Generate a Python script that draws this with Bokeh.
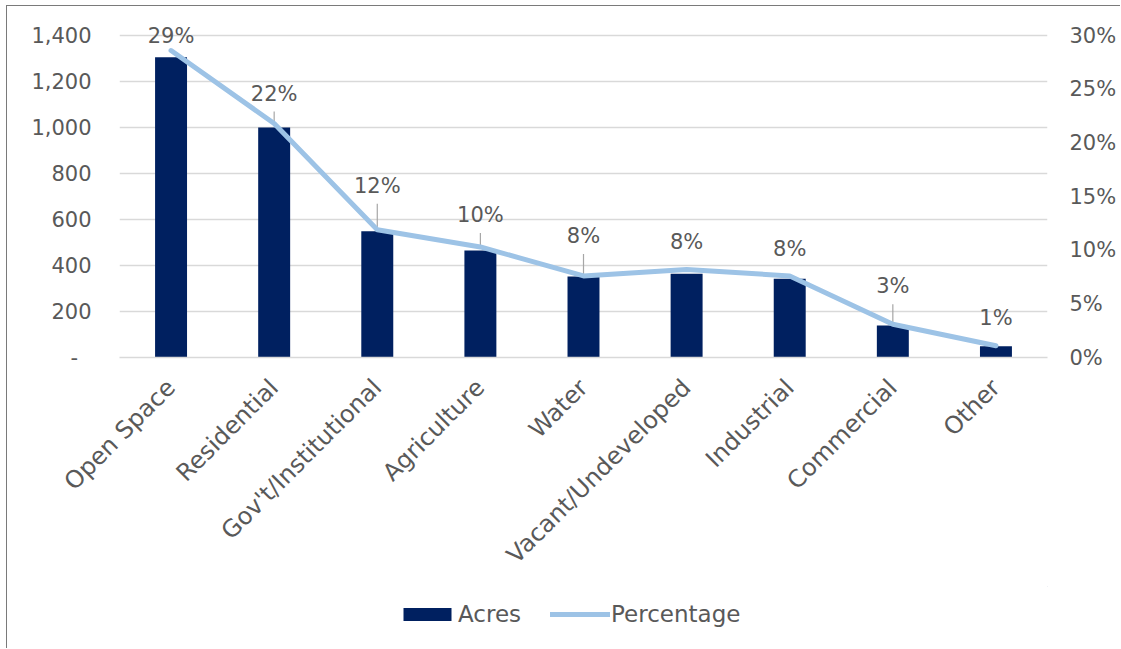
from bokeh.plotting import figure
from bokeh.layouts import column
from bokeh.models import (Range1d, LinearAxis, FixedTicker, PrintfTickFormatter,
                          NumeralTickFormatter, Legend, LegendItem, ColumnDataSource)
from bokeh.core.properties import value
from bokeh.embed import file_html
from bokeh.resources import INLINE
from math import pi

# Land use by category
categories = ["Open Space", "Residential", "Gov't/Institutional", "Agriculture",
              "Water", "Vacant/Undeveloped", "Industrial", "Commercial", "Other"]
acres = [1305, 1000, 549, 465, 352, 364, 342, 139, 49]
percentage = [28.6, 21.8, 11.9, 10.3, 7.6, 8.2, 7.6, 3.1, 1.1]
acre_ticks = [0, 200, 400, 600, 800, 1000, 1200, 1400]
pct_ticks = [0, 5, 10, 15, 20, 25, 30]

# label placement above each line point, in pixels
label_lift_px = [15, 30, 44, 32, 40, 27, 27, 38, 28]

FONT = "DejaVu Sans"
TXT = "#595959"
BAR = "#002060"
LINE = "#9DC3E6"
GRID = "#d9d9d9"
EDGE = "1px solid #7a7a7a"

# 322 px of plot height for 0..1400 acres (0..30 %), plus 23 px headroom
PX_SCALE = 322
ABOVE_PX = 345
acre_per_px = 1400 / PX_SCALE
pct_per_px = 30 / PX_SCALE

p = figure(x_range=categories, y_range=Range1d(0, ABOVE_PX * acre_per_px),
           width=1114, height=581, output_backend="svg", toolbar_location=None,
           min_border_left=112, min_border_right=74, min_border_top=6,
           min_border_bottom=230,
           styles={"margin-left": "6px", "margin-top": "5px",
                   "border-left": EDGE, "border-top": EDGE})
p.outline_line_color = None
p.background_fill_color = "white"
p.border_fill_color = "white"
p.extra_y_ranges = {"pct": Range1d(0, ABOVE_PX * pct_per_px)}

# grid
p.xgrid.grid_line_color = None
p.ygrid.ticker = FixedTicker(ticks=acre_ticks)
p.ygrid.grid_line_color = GRID
p.ygrid.grid_line_width = 1.4

# left axis
ya = p.yaxis[0]
ya.ticker = FixedTicker(ticks=acre_ticks)
ya.formatter = NumeralTickFormatter(format="0,0")
ya.major_label_overrides = {0: "-\u2007"}
ya.axis_line_color = None
ya.major_tick_line_color = None
ya.minor_tick_line_color = None
ya.major_tick_out = 0
ya.major_label_standoff = 28
ya.major_label_text_font = FONT
ya.major_label_text_font_size = "21px"
ya.major_label_text_color = TXT

# right axis
ra = LinearAxis(y_range_name="pct", ticker=FixedTicker(ticks=pct_ticks),
                formatter=PrintfTickFormatter(format="%d%%"))
ra.axis_line_color = None
ra.major_tick_line_color = None
ra.minor_tick_line_color = None
ra.major_tick_out = 0
ra.major_label_standoff = 22
ra.major_label_text_font = FONT
ra.major_label_text_font_size = "21px"
ra.major_label_text_color = TXT
p.add_layout(ra, "right")

# category axis
xa = p.xaxis[0]
xa.axis_line_color = GRID
xa.axis_line_width = 1.4
xa.major_tick_line_color = None
xa.minor_tick_line_color = None
xa.major_tick_out = 0
xa.major_label_orientation = pi / 4
xa.major_label_standoff = 26
xa.major_label_text_font = FONT
xa.major_label_text_font_size = "24px"
xa.major_label_text_color = TXT

# bars
bars = p.vbar(x=categories, top=acres, width=0.31, fill_color=BAR, line_color=None)

# leader lines for lifted labels
lead_x, lead_y0, lead_y1 = [], [], []
for c, v, lift in zip(categories, percentage, label_lift_px):
    if lift >= 29:
        lead_x.append(c)
        lead_y0.append(v)
        lead_y1.append(v + (lift - 18) * pct_per_px)
p.segment(x0=lead_x, y0=lead_y0, x1=lead_x, y1=lead_y1, y_range_name="pct",
          line_color="#a6a6a6", line_width=1.2)

# percentage line
line = p.line(x=categories, y=percentage, y_range_name="pct", line_color=LINE,
              line_width=5, line_cap="round", line_join="round")

# data labels
lbl = ColumnDataSource(dict(
    x=categories,
    y=[v + lift * pct_per_px for v, lift in zip(percentage, label_lift_px)],
    t=[f"{v:.0f}%" for v in percentage]))
p.text(x="x", y="y", text="t", source=lbl, y_range_name="pct",
       text_align="center", text_baseline="middle",
       text_font=value(FONT), text_font_size="21px", text_color=TXT)

# legend strip under the chart; its swatch renderers sit outside the view
leg = figure(width=1114, height=62, output_backend="svg", toolbar_location=None,
             x_range=Range1d(0, 1), y_range=Range1d(0, 1),
             x_axis_type=None, y_axis_type=None,
             min_border_left=0, min_border_right=0, min_border_top=0,
             min_border_bottom=0,
             styles={"margin-left": "6px", "border-left": EDGE})
leg.outline_line_color = None
leg.grid.visible = False
leg_bar = leg.vbar(x=[5], top=[6], bottom=[5], width=0.31, fill_color=BAR,
                   line_color=None)
leg_line = leg.line(x=[5, 6], y=[5, 5], line_color=LINE, line_width=5,
                    line_cap="round")

legend = Legend(items=[LegendItem(label="Acres", renderers=[leg_bar]),
                       LegendItem(label="Percentage", renderers=[leg_line])],
                orientation="horizontal", location=(278, 21))
legend.glyph_width = 60
legend.glyph_height = 16
legend.label_standoff = 1
legend.spacing = 29
legend.padding = 0
legend.margin = 0
legend.border_line_color = None
legend.background_fill_alpha = 0
legend.label_text_font = FONT
legend.label_text_font_size = "23px"
legend.label_text_color = TXT
leg.add_layout(legend)

open("out.html", "w").write(file_html(column(p, leg, spacing=0), INLINE))
